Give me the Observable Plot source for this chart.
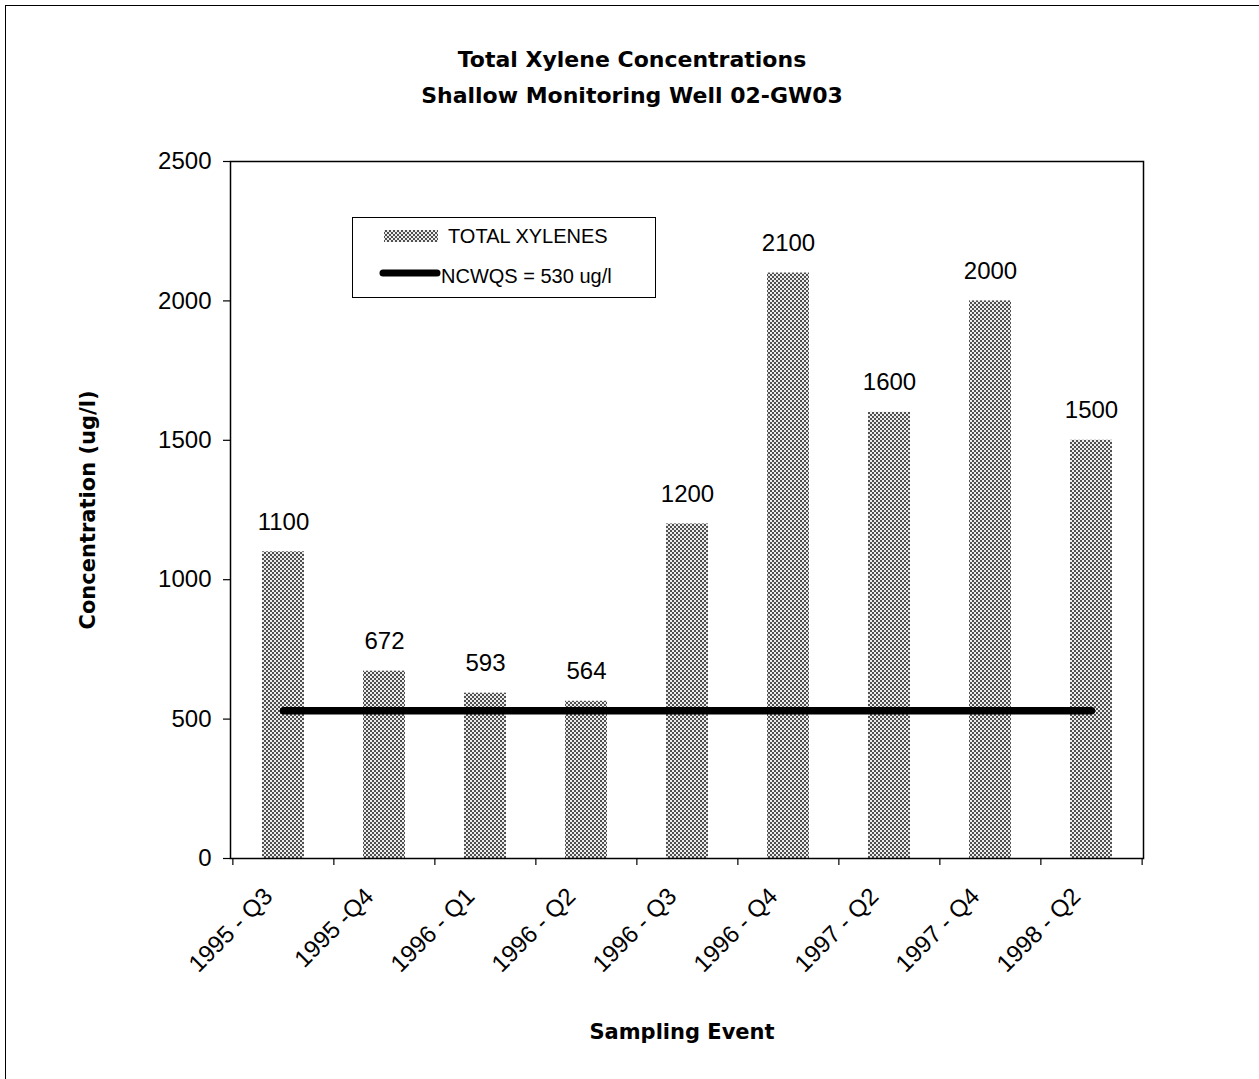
<!DOCTYPE html>
<html>
<head>
<meta charset="utf-8">
<script src="https://cdn.jsdelivr.net/npm/d3@7"></script>
<script src="https://cdn.jsdelivr.net/npm/@observablehq/plot@0.6"></script>
<style>
  body { margin: 0; background: #fff; }
  #wrap { position: relative; width: 1259px; height: 1079px; overflow: hidden; background: #fff;
          font-family: "Liberation Sans", Arial, sans-serif; color: #000; }
  #border { position: absolute; left: 5px; top: 5px; width: 1300px; height: 1200px;
            border-left: 1.5px solid #000; border-top: 1.5px solid #000; }
  #title { position: absolute; left: 0; top: 42px; width: 1264px; text-align: center;
           font-family: "DejaVu Sans", sans-serif; font-weight: bold; font-size: 22px; line-height: 36px; }
  #chart { position: absolute; left: 0; top: 120px; }
  #legend { position: absolute; left: 352px; top: 217px; width: 302px; height: 79px;
            border: 1px solid #000; background: #fff; }
  #legend svg { position: absolute; left: 0; top: 0; }
</style>
</head>
<body>
<svg width="0" height="0" style="position:absolute">
  <defs>
    <pattern id="stipple" patternUnits="userSpaceOnUse" width="4" height="4">
      <rect x="0" y="0" width="4" height="4" fill="#ececec"></rect>
      <rect x="0" y="0" width="2" height="2" fill="#505050"></rect>
      <rect x="2" y="2" width="2" height="2" fill="#505050"></rect>
    </pattern>
  </defs>
</svg>
<div id="wrap">
  <div id="border"></div>
  <div id="title">Total Xylene Concentrations<br>Shallow Monitoring Well 02-GW03</div>
  <div id="chart"></div>
  <div id="legend"></div>
</div>
<script>
// ---- data ----
const events = ["1995 - Q3", "1995 -Q4", "1996 - Q1", "1996 - Q2", "1996 - Q3", "1996 - Q4", "1997 - Q2", "1997 - Q4", "1998 - Q2"];
const xyleneValues = [1100, 672, 593, 564, 1200, 2100, 1600, 2000, 1500];
const standardValue = 530;
const yTicks = [0, 500, 1000, 1500, 2000, 2500];
const seriesNames = ["TOTAL XYLENES", "NCWQS = 530 ug/l"];
const xTitle = "Sampling Event";
const yTitle = "Concentration (ug/l)";

const table = events.map((e, i) => ({event: e, value: xyleneValues[i]}));

// ---- layout ----
const W = 1259, H = 959;
const mL = 230, mR = 116, mT = 41, mB = 221;
const padIn = 0.585, padOut = 0.3;
const step = (W - mL - mR) / (events.length - padIn + 2 * padOut);

const chart = Plot.plot({
  width: W, height: H,
  marginLeft: mL, marginRight: mR, marginTop: mT, marginBottom: mB,
  style: {fontFamily: "'Liberation Sans', Arial, sans-serif", color: "#000", background: "transparent"},
  x: {domain: events, paddingInner: padIn, paddingOuter: padOut},
  y: {domain: [0, 2500]},
  marks: [
    Plot.barY(table, {x: "event", y: "value", fill: "url(#stipple)"}),
    Plot.lineY(table, {x: "event", y: () => standardValue, stroke: "#000", strokeWidth: 7.5, strokeLinecap: "round"}),
    Plot.text(table, {x: "event", y: "value", text: d => String(d.value), dy: -30, fontSize: 24, fill: "#000"}),
    Plot.frame({stroke: "#000", strokeWidth: 1.5}),
    Plot.axisY({ticks: yTicks, tickSize: 7, tickPadding: 12, fontSize: 24, label: null, tickFormat: d => String(d), strokeWidth: 1.2}),
    // category boundary ticks
    Plot.axisX({tickSize: 7, fill: "none", dx: -step / 2, strokeWidth: 1.2, label: null}),
    Plot.ruleX(events.slice(-1), {x: d => d, dx: step / 2, frameAnchor: "bottom", y1: 0, y2: -25, stroke: "#000", strokeWidth: 1.2}),
    // rotated category labels
    Plot.text(events, {x: d => d, frameAnchor: "bottom", rotate: -45, textAnchor: "end", lineAnchor: "middle",
                       dx: -15, dy: 34, fontSize: 24, fill: "#000"}),
    Plot.text([yTitle], {frameAnchor: "left", rotate: -90, textAnchor: "middle", lineAnchor: "middle",
                         dx: -142, fontSize: 21, fontWeight: "bold", fontFamily: "'DejaVu Sans', sans-serif", fill: "#000"}),
    Plot.text([xTitle], {frameAnchor: "bottom", textAnchor: "middle", lineAnchor: "middle",
                         dx: -5, dy: 174, fontSize: 21, fontWeight: "bold", fontFamily: "'DejaVu Sans', sans-serif", fill: "#000"})
  ]
});
document.getElementById("chart").appendChild(chart);

// ---- legend ----
const lg = d3.select("#legend").append("svg").attr("width", 302).attr("height", 79);
lg.append("rect").attr("x", 31).attr("y", 12).attr("width", 54).attr("height", 12).attr("fill", "url(#stipple)");
lg.append("text").attr("x", 95).attr("y", 25).attr("font-size", 20)
  .attr("font-family", "'Liberation Sans', Arial, sans-serif").text(seriesNames[0]);
lg.append("line").attr("x1", 30).attr("x2", 84).attr("y1", 55).attr("y2", 55)
  .attr("stroke", "#000").attr("stroke-width", 7).attr("stroke-linecap", "round");
lg.append("text").attr("x", 88).attr("y", 65).attr("font-size", 20)
  .attr("font-family", "'Liberation Sans', Arial, sans-serif").text(seriesNames[1]);
</script>
</body>
</html>
